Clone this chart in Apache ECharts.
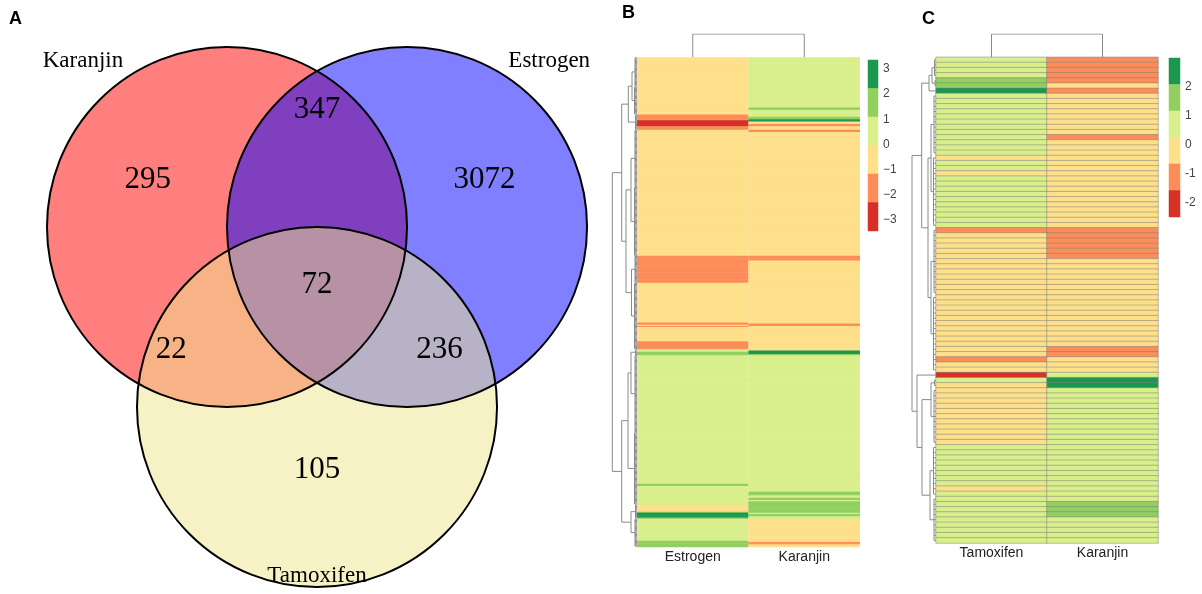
<!DOCTYPE html>
<html>
<head>
<meta charset="utf-8">
<title>Venn and heatmaps</title>
<script src="https://cdn.jsdelivr.net/npm/echarts@6/dist/echarts.min.js"></script>
<style>
  html, body { margin: 0; padding: 0; background: #fff; }
  #chart { width: 1202px; height: 594px; }
</style>
</head>
<body>
<div id="chart"></div>
<script>
// ---- Venn (A) ----
const vennNames = ['Karanjin', 'Estrogen', 'Tamoxifen'];
// centre x, centre y, radius (in circle-radius units)
const vennCircles = [[0, 0, 1], [1, 0, 1], [0.5, 1, 1]];
const vennCounts = [295, 347, 3072, 72, 22, 236, 105];
const vennCountAt = [[-0.44, -0.26], [0.5, -0.65], [1.43, -0.26], [0.5, 0.32], [-0.31, 0.68], [1.18, 0.68], [0.5, 1.35]];
const vennNameAt = [[-0.8, -0.92], [1.79, -0.92], [0.5, 1.94]];

// ---- Heatmaps (B, C) ----
// bins: -2.5 red, -1.5 orange, -0.5 yellow, 0.5 light green, 1.5 green, 2.5 dark green
// rows stored as runs: [number of rows, value]
const bColumns = ['Estrogen', 'Karanjin'];
const bEstrogenRuns = [[49, -0.5], [5, -1.5], [5, -2.5], [3, -1.5], [108, -0.5], [23, -1.5], [34, -0.5], [2, -1.5], [1, -0.5], [1, -1.5],
  [12, -0.5], [7, -1.5], [2, 0.5], [3, 1.5], [110, 0.5], [2, 1.5], [16, 0.5], [6, -0.5], [1, 1.5], [4, 2.5], [1, 1.5], [19, 0.5], [5, 1.5]];
const bKaranjinRuns = [[43, 0.5], [2, 1.5], [6, 0.5], [2, 1.5], [2, 2.5], [2, -0.5], [2, -1.5], [3, -0.5], [2, -1.5], [106, -0.5],
  [4, -1.5], [54, -0.5], [2, -1.5], [21, -0.5], [3, 2.5], [1, 1.5], [117, 0.5], [3, 1.5], [2, 0.5], [2, 1.5], [1, 0.5], [10, 1.5],
  [1, 0.5], [2, 1.5], [2, 0.5], [20, -0.5], [2, -1.5], [2, -0.5]];

const cColumns = ['Tamoxifen', 'Karanjin'];
const cTamoxifenRuns = [[4, 0.5], [2, 1.5], [1, 2.5], [12, 0.5], [1, -0.5], [2, 0.5], [1, -0.5], [10, 0.5], [1, -1.5], [24, -0.5],
  [1, -1.5], [2, -0.5], [1, -2.5], [1, 0.5], [12, -0.5], [8, 0.5], [1, -0.5], [10, 0.5]];
const cKaranjinRuns = [[5, -1.5], [1, -0.5], [1, -1.5], [8, -0.5], [1, -1.5], [17, -0.5], [6, -1.5], [17, -0.5], [2, -1.5], [3, -0.5],
  [1, 0.5], [2, 2.5], [22, 0.5], [3, 1.5], [5, 0.5]];

// colour key bands, top to bottom
const legendBins = [2.5, 1.5, 0.5, -0.5, -1.5, -2.5];

// row dendrograms: leaf groups [id, first row, last row, height], merges [id, child, child, height]
const bClusters = [['c0', 0, 24, 2], ['c1', 25, 48, 2.5], ['c2', 49, 61, 1.5], ['c3', 62, 110, 2], ['c4', 111, 169, 2.5],
  ['c5', 170, 192, 2], ['c6', 193, 249, 2.5], ['c7', 250, 254, 1.5], ['c8', 255, 320, 2], ['c9', 321, 382, 2.5],
  ['c10', 383, 394, 1.5], ['c11', 395, 418, 2]];
const bNodes = [['nA', 'c0', 'c1', 5], ['nB', 'nA', 'c2', 8.7], ['nC', 'c3', 'c4', 6], ['nD', 'c5', 'c6', 5.5],
  ['nE', 'nC', 'nD', 11], ['nF', 'nB', 'nE', 15.3], ['nG', 'c7', 'c8', 6], ['nK', 'nG', 'c9', 9],
  ['nL', 'c10', 'c11', 6], ['nJ', 'nK', 'nL', 15.3], ['root', 'nF', 'nJ', 24.7]];
const cClusters = [['k0', 0, 3, 1.5], ['k1', 4, 5, 1], ['k2', 6, 6, 0], ['k3', 7, 18, 2], ['k4', 19, 32, 2.5],
  ['k5', 33, 45, 2], ['k6', 46, 60, 2.5], ['k7', 61, 61, 0], ['k8', 62, 63, 1.5], ['k9', 64, 74, 2],
  ['k10', 75, 84, 2.5], ['k11', 85, 93, 2]];
const cNodes = [['m0', 'k0', 'k1', 4], ['m1', 'm0', 'k2', 7], ['m2', 'k3', 'k4', 5], ['m3', 'k5', 'k6', 5],
  ['m4', 'm2', 'm3', 8], ['m5', 'm1', 'm4', 14.3], ['m6', 'k8', 'k9', 5], ['m7', 'k10', 'k11', 6],
  ['m8', 'm6', 'm7', 14], ['m9', 'k7', 'm8', 19], ['root', 'm5', 'm9', 24]];

const vennFills = ['rgba(255,0,0,0.5)', 'rgba(0,0,255,0.5)', 'rgba(240,230,140,0.5)'];
const binColors = ['#d73027', '#fc8d59', '#fee08b', '#d9ef8b', '#91cf60', '#1a9850'];
const dendroColor = '#8a8a8a';

const expand = runs => runs.flatMap(([n, v]) => Array(n).fill(v));

function heatData(cols) {
  const out = [];
  cols.forEach((col, x) => col.forEach((v, y) => out.push([x, y, v])));
  return out;
}

function dendroLines(clusters, nodes) {
  const pos = {};
  const lines = [];
  clusters.forEach(([id, a, b, h]) => {
    pos[id] = [h, (a + b + 1) / 2];
    if (b > a) {
      lines.push([[h, a + 0.5], [h, b + 0.5]]);
      for (let r = a; r <= b; r++) lines.push([[h, r + 0.5], [0, r + 0.5]]);
    }
  });
  nodes.forEach(([id, ca, cb, h]) => {
    const pa = pos[ca], pb = pos[cb];
    pos[id] = [h, (pa[1] + pb[1]) / 2];
    lines.push([pa, [h, pa[1]], [h, pb[1]], pb]);
  });
  return lines.map(coords => ({coords}));
}

const bCols = [expand(bEstrogenRuns), expand(bKaranjinRuns)];
const cCols = [expand(cTamoxifenRuns), expand(cKaranjinRuns)];
const bN = bCols[0].length;
const cN = cCols[0].length;
const rowNames = n => Array.from({length: n}, (_, i) => 'g' + i);

const sans = 'Liberation Sans, Arial, sans-serif';
const serif = 'Liberation Serif, Times New Roman, serif';

const hiddenValue = (gridIndex, min, max, extra) => Object.assign({type: 'value', gridIndex, min, max, show: false}, extra || {});
const heatX = (gridIndex, data) => ({
  type: 'category', gridIndex, data, position: 'bottom',
  axisLine: {show: false}, axisTick: {show: false}, splitLine: {show: false},
  axisLabel: {margin: 3, fontSize: 14, color: '#222', fontFamily: sans}
});
const hiddenCat = (gridIndex, data) => ({type: 'category', gridIndex, data, inverse: true, show: false});
const keyAxis = (gridIndex, min, max, minus) => ({
  type: 'value', gridIndex, min, max, interval: 1, position: 'right',
  axisLine: {show: false}, axisTick: {show: false}, splitLine: {show: false},
  axisLabel: {margin: 5, fontSize: 12, color: '#444', fontFamily: sans,
    formatter: v => (v < 0 ? minus + Math.abs(v) : String(v))}
});

let myChart = echarts.init(document.getElementById('chart'));
myChart.setOption({
  animation: false,
  title: [
    {text: 'A', left: 9, top: 10},
    {text: 'B', left: 622, top: 4},
    {text: 'C', left: 922, top: 10}
  ].map(t => Object.assign(t, {padding: 0, textStyle: {fontSize: 18, fontWeight: 'bold', color: '#000', fontFamily: sans}})),
  grid: [
    {left: 0, top: 0, width: 600, height: 594},          // 0 venn
    {left: 637, top: 57.3, width: 223, height: 489.4},   // 1 B heatmap
    {left: 612, top: 57.3, width: 25, height: 489.4},    // 2 B row tree
    {left: 637, top: 34, width: 223, height: 23.3},      // 3 B column tree
    {left: 868, top: 60, width: 10, height: 171},        // 4 B key bar
    {left: 877, top: 69, width: 1, height: 151},         // 5 B key labels
    {left: 936, top: 57.3, width: 222, height: 485.7},   // 6 C heatmap
    {left: 911, top: 57.3, width: 25, height: 485.7},    // 7 C row tree
    {left: 936, top: 34, width: 222, height: 23.3},      // 8 C column tree
    {left: 1169, top: 58, width: 11, height: 159},       // 9 C key bar
    {left: 1179, top: 87, width: 1, height: 116}         // 10 C key labels
  ],
  xAxis: [
    hiddenValue(0, -1.261, 2.072),
    heatX(1, bColumns),
    hiddenValue(2, 0, 25, {inverse: true}),
    hiddenValue(3, -0.5, 1.5),
    {type: 'category', gridIndex: 4, data: ['key'], show: false},
    hiddenValue(5, 0, 1),
    heatX(6, cColumns),
    hiddenValue(7, 0, 25, {inverse: true}),
    hiddenValue(8, -0.5, 1.5),
    {type: 'category', gridIndex: 9, data: ['key'], show: false},
    hiddenValue(10, 0, 1)
  ],
  yAxis: [
    hiddenValue(0, -1.261, 2.039, {inverse: true}),
    hiddenCat(1, rowNames(bN)),
    hiddenValue(2, 0, bN, {inverse: true}),
    hiddenValue(3, 0, 1),
    hiddenCat(4, legendBins.map(String)),
    keyAxis(5, -3, 3, '\u2212'),
    hiddenCat(6, rowNames(cN)),
    hiddenValue(7, 0, cN, {inverse: true}),
    hiddenValue(8, 0, 1),
    hiddenCat(9, legendBins.map(String)),
    keyAxis(10, -2, 2, '-')
  ],
  visualMap: {
    type: 'piecewise', show: false, seriesIndex: [0, 1, 2, 3], dimension: 2,
    pieces: [
      {min: -3, max: -2, color: binColors[0]},
      {min: -2, max: -1, color: binColors[1]},
      {min: -1, max: 0, color: binColors[2]},
      {min: 0, max: 1, color: binColors[3]},
      {min: 1, max: 2, color: binColors[4]},
      {min: 2, max: 3, color: binColors[5]}
    ]
  },
  series: [
    {
      // B cells drawn as rects that overlap slightly, so thin rows leave no seams
      type: 'custom', xAxisIndex: 1, yAxisIndex: 1, data: heatData(bCols), silent: true, clip: false,
      renderItem: (params, api) => {
        const c = api.coord([api.value(0), api.value(1)]);
        const s = api.size([1, 1]);
        return {
          type: 'rect',
          shape: {x: c[0] - s[0] / 2, y: c[1] - s[1] / 2, width: s[0], height: s[1] + 0.6},
          style: {fill: api.visual('color')}
        };
      }
    },
    {
      type: 'heatmap', xAxisIndex: 6, yAxisIndex: 6, data: heatData(cCols),
      progressive: 0, silent: true,
      itemStyle: {borderColor: 'rgba(128,128,128,0.5)', borderWidth: 1}
    },
    {
      type: 'heatmap', xAxisIndex: 4, yAxisIndex: 4, silent: true,
      data: legendBins.map((v, i) => [0, i, v])
    },
    {
      type: 'heatmap', xAxisIndex: 9, yAxisIndex: 9, silent: true,
      data: legendBins.map((v, i) => [0, i, v])
    },
    {
      // venn fills, drawn in order so the overlaps blend
      type: 'custom', xAxisIndex: 0, yAxisIndex: 0, silent: true, clip: false,
      data: vennCircles,
      renderItem: (params, api) => {
        const c = api.coord([api.value(0), api.value(1)]);
        const r = api.size([api.value(2), 0])[0];
        return {type: 'circle', shape: {cx: c[0], cy: c[1], r}, style: {fill: vennFills[params.dataIndex]}};
      }
    },
    {
      type: 'custom', xAxisIndex: 0, yAxisIndex: 0, silent: true, clip: false,
      data: vennCircles,
      renderItem: (params, api) => {
        const c = api.coord([api.value(0), api.value(1)]);
        const r = api.size([api.value(2), 0])[0];
        return {type: 'circle', shape: {cx: c[0], cy: c[1], r}, style: {fill: null, stroke: '#000', lineWidth: 2}};
      }
    },
    {
      type: 'custom', xAxisIndex: 0, yAxisIndex: 0, silent: true, clip: false,
      data: vennCountAt.map((p, i) => [p[0], p[1], vennCounts[i]])
        .concat(vennNameAt.map((p, i) => [p[0], p[1], vennNames[i]])),
      renderItem: (params, api) => {
        const c = api.coord([api.value(0), api.value(1)]);
        const item = params.dataIndex < vennCounts.length
          ? {text: String(vennCounts[params.dataIndex]), size: 31}
          : {text: vennNames[params.dataIndex - vennCounts.length], size: 23};
        return {
          type: 'text', x: c[0], y: c[1],
          style: {text: item.text, fontSize: item.size, fontFamily: serif, fill: '#000',
            align: 'center', verticalAlign: 'middle', textAlign: 'center', textVerticalAlign: 'middle'}
        };
      }
    },
    {
      type: 'lines', coordinateSystem: 'cartesian2d', xAxisIndex: 2, yAxisIndex: 2, polyline: true, silent: true,
      data: dendroLines(bClusters, bNodes), lineStyle: {color: dendroColor, width: 1, opacity: 1}
    },
    {
      type: 'lines', coordinateSystem: 'cartesian2d', xAxisIndex: 3, yAxisIndex: 3, polyline: true, silent: true,
      data: [{coords: [[0, 0], [0, 1], [1, 1], [1, 0]]}], lineStyle: {color: dendroColor, width: 1, opacity: 1}
    },
    {
      type: 'lines', coordinateSystem: 'cartesian2d', xAxisIndex: 7, yAxisIndex: 7, polyline: true, silent: true,
      data: dendroLines(cClusters, cNodes), lineStyle: {color: dendroColor, width: 1, opacity: 1}
    },
    {
      type: 'lines', coordinateSystem: 'cartesian2d', xAxisIndex: 8, yAxisIndex: 8, polyline: true, silent: true,
      data: [{coords: [[0, 0], [0, 1], [1, 1], [1, 0]]}], lineStyle: {color: dendroColor, width: 1, opacity: 1}
    }
  ]
});
</script>
</body>
</html>
